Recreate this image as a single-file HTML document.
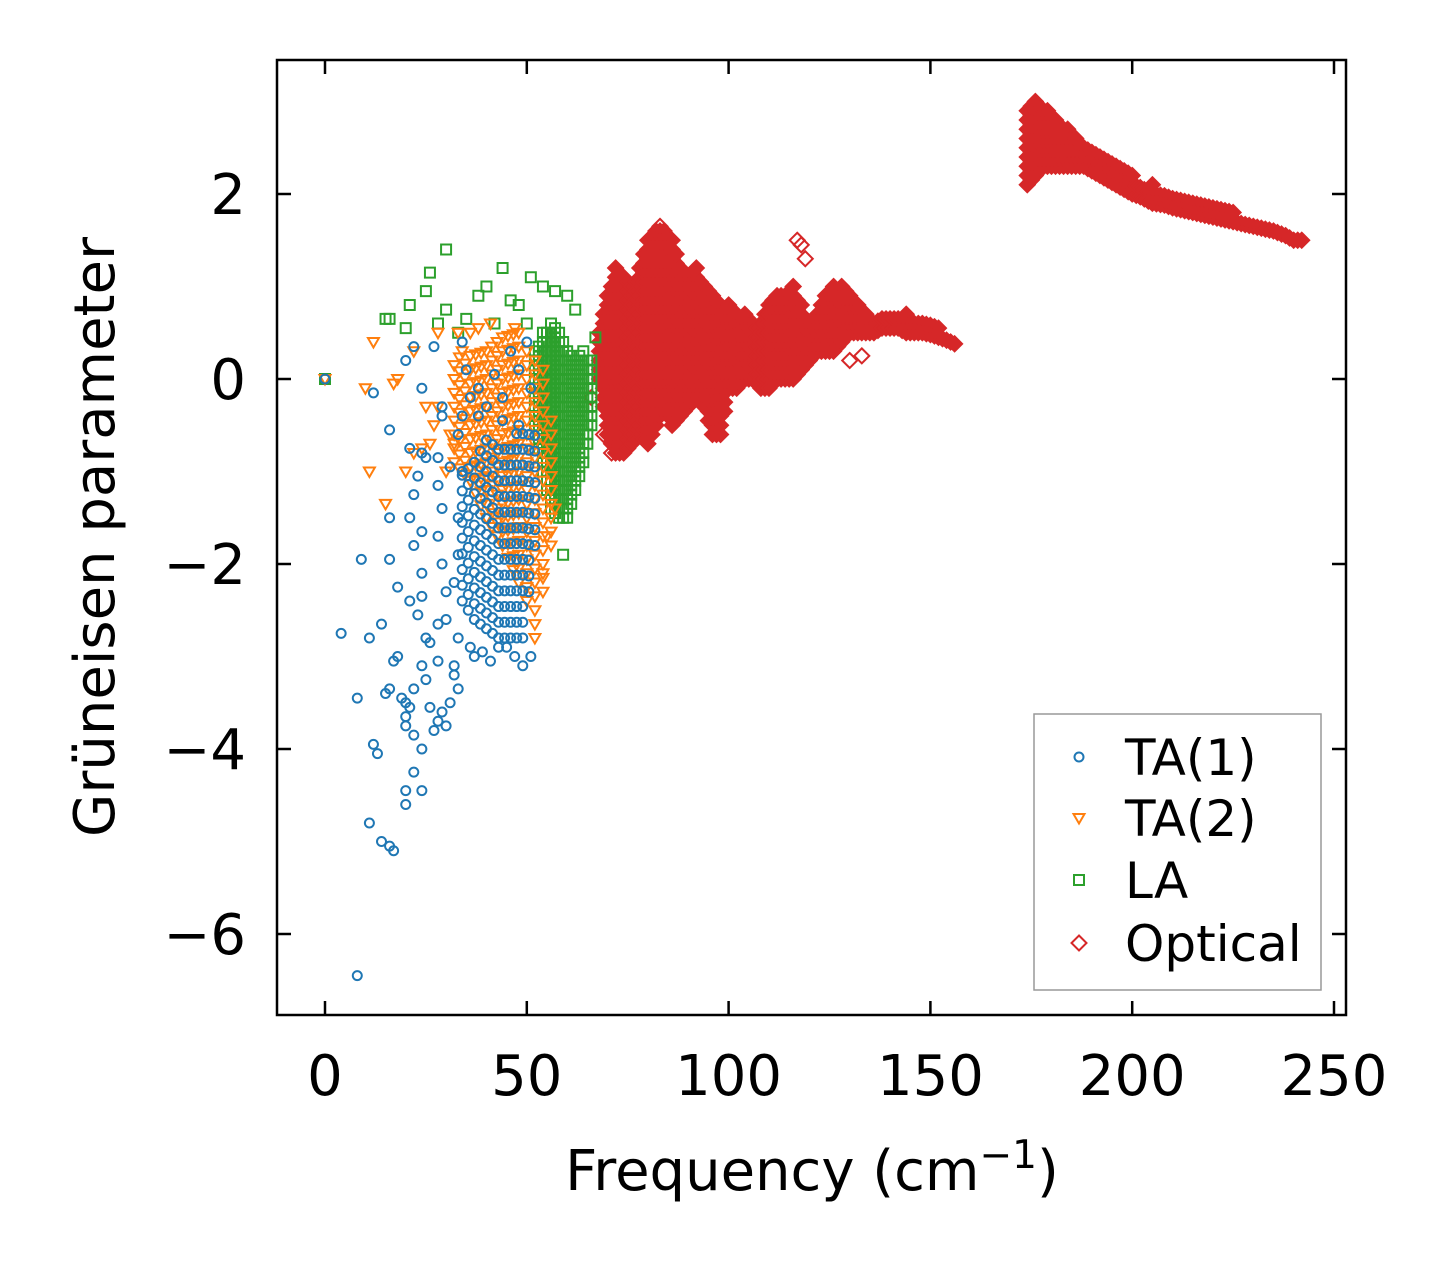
<!DOCTYPE html>
<html><head><meta charset="utf-8"><style>
html,body{margin:0;padding:0;background:#fff;}
svg text{font-family:"DejaVu Sans","Liberation Sans",sans-serif;}
</style></head><body>
<svg id="chart" width="1448" height="1264" viewBox="0 0 1448 1264" xmlns="http://www.w3.org/2000/svg">
<rect width="1448" height="1264" fill="#fff"/>
<g id="marks"></g>
<g id="axes"></g>
</svg>
<script>
// ---- data ----
const xTicks = [0, 50, 100, 150, 200, 250];
const yTicks = [2, 0, -2, -4, -6];
const yTickLabels = ["2", "0", "\u22122", "\u22124", "\u22126"];

// TA(1) scattered points
const ta1X = [0,8,4,8,9,11,11,12,13,14,16,17,14,15,16,16,16,16,12,17,18,18,19,20,20,20,20,20,21,22,22,24,24,22,21,22,21,22,23,21,20,22,24,24,25,24,24,24,23,24,25,25,26,26,27,28,28,29,30,28,29,28,29,28,28,29,29,27,31,30,30,31,32,32,33,33,32,33,33,34,33,34,34,35,36,38,40,42,44,46,48,50,51,37,39,41,43,45,47,49,51,36,44,48,38];
const ta1Y = [0,-6.45,-2.75,-3.45,-1.95,-2.8,-4.8,-3.95,-4.05,-5.0,-5.05,-5.1,-2.65,-3.4,-3.35,-1.95,-1.5,-0.55,-0.15,-3.05,-2.25,-3.0,-3.45,-3.5,-4.45,-4.6,-3.65,-3.75,-3.55,-3.85,-4.25,-4.45,-4.0,-3.35,-2.4,-1.8,-1.5,-1.25,-1.05,-0.75,0.2,0.35,-0.1,-0.8,-0.85,-1.65,-2.1,-2.35,-2.55,-3.1,-3.25,-2.8,-2.85,-3.55,-3.8,-3.7,-3.05,-3.6,-3.75,-2.65,-2.0,-1.7,-1.4,-1.15,-0.85,-0.3,-0.4,0.35,-0.95,-2.3,-2.6,-3.5,-3.1,-3.2,-3.35,-2.8,-2.2,-1.9,-1.5,-1.0,-0.6,-0.4,0.4,0.1,-0.2,-0.1,-0.3,0.05,-0.2,0.3,0.1,0.4,-0.1,-3.0,-2.95,-3.05,-2.9,-2.9,-3.0,-3.1,-3.0,-2.9,-0.45,-0.5,-0.4,-0.7];
// TA(1) dense band (column x, low y, high y)
const ta1BandX = [34,37,40,43,46,49,52];
const ta1BandLo = [-2.4,-2.6,-2.7,-2.8,-2.8,-2.8,-1.8];
const ta1BandHi = [-1.0,-0.8,-0.6,-0.6,-0.6,-0.5,-0.5];

// TA(2)
const ta2X = [0,10,11,15,17,18,20,22,25,26,28,28,30,32,34,12,22,24,27,31,33,36,38,41,47,55,54,57];
const ta2Y = [0,-0.1,-1.0,-1.35,-0.05,0.0,-1.0,-0.8,-0.3,-0.7,-0.3,0.5,-1.0,-0.7,0.3,0.4,0.3,-0.75,-0.5,-0.6,0.5,0.5,0.55,0.6,0.55,-1.7,-2.1,-1.4];
const ta2BandX = [32,36,40,44,48,50,52,54,56];
const ta2BandLo = [-0.9,-1.1,-1.5,-1.8,-2.2,-2.4,-2.8,-2.3,-1.8];
const ta2BandHi = [0.2,0.3,0.4,0.5,0.5,0.4,0.3,0.1,-0.4];

// LA
const laX = [0,15,16,20,21,25,26,30,28,30,35,38,40,44,46,48,51,54,57,60,62,59,64,67,33,42,50];
const laY = [0,0.65,0.65,0.55,0.8,0.95,1.15,1.4,0.6,0.75,0.65,0.9,1.0,1.2,0.85,0.8,1.1,1.0,0.95,0.9,0.75,-1.9,-0.3,0.45,0.5,0.6,0.6];
const laBandX = [52,54,56,58,60,62,64,66];
const laBandLo = [-0.5,-1.0,-1.4,-1.5,-1.5,-1.2,-0.9,-0.5];
const laBandHi = [0.3,0.5,0.6,0.5,0.3,0.2,0.3,0.2];

// Optical
const optX = [83,117,118,119,130,133,66,69,71];
const optY = [1.65,1.5,1.45,1.3,0.2,0.25,-0.2,-0.6,-0.8];
const optBandX = [68,70,72,74,76,78,80,82,84,86,88,90,92,94,96,98,100,102,104,106,108,110,112,114,116,118,120,122,124,126,128,130,132,134,136,138,140,142,144,146,148,150,152,154,156,
 174,176,178,180,182,184,186,188,190,192,194,196,198,200,202,205,208,210,213,215,218,220,223,225,228,230,233,235,238,240,242];
const optBandLo = [0.0,-0.6,-0.8,-0.8,-0.7,-0.6,-0.7,-0.5,-0.3,-0.5,-0.4,-0.3,-0.2,-0.3,-0.6,-0.6,-0.1,-0.1,0.0,0.0,-0.1,-0.1,0.0,0.0,0.0,0.1,0.2,0.3,0.3,0.3,0.4,0.5,0.5,0.5,0.5,0.55,0.55,0.55,0.5,0.5,0.5,0.48,0.45,0.42,0.38,
 2.1,2.2,2.3,2.3,2.3,2.3,2.3,2.3,2.25,2.2,2.15,2.1,2.05,2.0,1.97,1.9,1.88,1.85,1.82,1.8,1.77,1.75,1.72,1.7,1.67,1.65,1.62,1.6,1.55,1.5,1.5];
const optBandHi = [0.5,0.9,1.2,1.1,1.0,1.2,1.5,1.6,1.6,1.5,1.2,1.1,1.2,1.0,0.9,0.8,0.8,0.7,0.7,0.6,0.6,0.8,0.9,0.9,1.0,0.8,0.6,0.7,0.9,1.0,1.0,0.9,0.8,0.7,0.65,0.68,0.7,0.7,0.7,0.66,0.62,0.58,0.55,0.5,0.45,
 2.95,3.0,2.95,2.85,2.78,2.7,2.62,2.55,2.5,2.45,2.38,2.3,2.25,2.2,2.15,2.1,2.05,2.0,1.97,1.95,1.9,1.85,1.82,1.8,1.76,1.72,1.68,1.65,1.6,1.58,1.52];

// ---- scales ----
const X0 = 325, XS = (1334 - 325) / 250;
const Y0 = 379, YS = (934 - 194) / 8;
const sx = v => X0 + v * XS;
const sy = v => Y0 - v * YS;
const NS = "http://www.w3.org/2000/svg";
const marks = document.getElementById('marks');
const axes = document.getElementById('axes');

function marker(g, shape, cx, cy, color, fill) {
  let el;
  if (shape === 'circle') {
    el = document.createElementNS(NS, 'circle');
    el.setAttribute('cx', cx); el.setAttribute('cy', cy); el.setAttribute('r', 4.5);
  } else if (shape === 'tri') {
    el = document.createElementNS(NS, 'polygon');
    el.setAttribute('points', `${cx-5.5},${cy-4} ${cx+5.5},${cy-4} ${cx},${cy+5.5}`);
  } else if (shape === 'square') {
    el = document.createElementNS(NS, 'rect');
    el.setAttribute('x', cx-5); el.setAttribute('y', cy-5); el.setAttribute('width', 10); el.setAttribute('height', 10);
  } else {
    el = document.createElementNS(NS, 'polygon');
    el.setAttribute('points', `${cx},${cy-7.5} ${cx+7.5},${cy} ${cx},${cy+7.5} ${cx-7.5},${cy}`);
  }
  el.setAttribute('fill', fill || 'none');
  el.setAttribute('stroke', color);
  el.setAttribute('stroke-width', 2);
  g.appendChild(el);
  return el;
}

function series(name, shape, color, xs, ys, bx, blo, bhi, ystep, fill, xsub) {
  const g = document.createElementNS(NS, 'g');
  
  
  marks.appendChild(g);
  for (let i = 0; i < bx.length; i++) {
    const xa = bx[i], xb = i + 1 < bx.length && bx[i+1] - bx[i] <= 4 ? bx[i+1] : bx[i];
    const sub = Math.max(1, Math.round((xb - xa) / xsub));
    for (let k = 0; k < sub; k++) {
      const t = k / sub;
      const xv = xa + (xb - xa) * t;
      const lo = blo[i] + ((i + 1 < bx.length ? blo[i+1] : blo[i]) - blo[i]) * (xb === xa ? 0 : t);
      const hi = bhi[i] + ((i + 1 < bx.length ? bhi[i+1] : bhi[i]) - bhi[i]) * (xb === xa ? 0 : t);
      for (let y = lo; y <= hi + 1e-6; y += ystep) {
        const m = marker(g, shape, sx(xv), sy(y), color, fill);
        
        
      }
    }
  }
  for (let i = 0; i < xs.length; i++) {
    const m = marker(g, shape, sx(xs[i]), sy(ys[i]), color, null);
    
    
  }
}

series('optical-series', 'diamond', '#d62728', optX, optY, optBandX, optBandLo, optBandHi, 0.1, '#d62728', 1);
series('la-series', 'square', '#2ca02c', laX, laY, laBandX, laBandLo, laBandHi, 0.1, null, 1);
series('ta2-series', 'tri', '#ff7f0e', ta2X, ta2Y, ta2BandX, ta2BandLo, ta2BandHi, 0.15, null, 1.5);
series('ta1-series', 'circle', '#1f77b4', ta1X, ta1Y, ta1BandX, ta1BandLo, ta1BandHi, 0.17, null, 1.5);

// ---- axes ----
function add(parent, tag, attrs, text) {
  const el = document.createElementNS(NS, tag);
  for (const k in attrs) el.setAttribute(k, attrs[k]);
  if (text !== undefined) el.textContent = text;
  parent.appendChild(el);
  return el;
}
const L = 277, R = 1346, T = 60, B = 1015;
const frame = add(axes, 'rect', {x:L, y:T, width:R-L, height:B-T, fill:'none', stroke:'#000', 'stroke-width':2.5});


xTicks.forEach(v => {
  const x = sx(v);
  add(axes, 'line', {x1:x, y1:B, x2:x, y2:B-14, stroke:'#000', 'stroke-width':2.5});
  add(axes, 'line', {x1:x, y1:T, x2:x, y2:T+14, stroke:'#000', 'stroke-width':2.5});
  const t = add(axes, 'text', {x:x, y:1095, 'font-size':56, 'text-anchor':'middle', fill:'#000'}, String(v));
  
  
});
yTicks.forEach((v, i) => {
  const y = sy(v);
  add(axes, 'line', {x1:L, y1:y, x2:L+14, y2:y, stroke:'#000', 'stroke-width':2.5});
  add(axes, 'line', {x1:R, y1:y, x2:R-14, y2:y, stroke:'#000', 'stroke-width':2.5});
  const t = add(axes, 'text', {x:246, y:y+20, 'font-size':56, 'text-anchor':'end', fill:'#000'}, yTickLabels[i]);
  
  
});
const xl = add(axes, 'text', {x:812, y:1190, 'font-size':56, 'text-anchor':'middle', fill:'#000'});


xl.innerHTML = 'Frequency (cm<tspan dy="-22" font-size="39">\u22121</tspan><tspan dy="22">)</tspan>';
const yl = add(axes, 'text', {x:0, y:0, 'font-size':56, 'text-anchor':'middle', fill:'#000', transform:'translate(114,537) rotate(-90)'}, 'Grüneisen parameter');



// legend
const lg = add(axes, 'g', {});


add(lg, 'rect', {x:1034, y:714, width:287, height:276, fill:'#fff', stroke:'#999', 'stroke-width':1.5});
const legNames = ['TA(1)', 'TA(2)', 'LA', 'Optical'];
const legShapes = ['circle', 'tri', 'square', 'diamond'];
const legColors = ['#1f77b4', '#ff7f0e', '#2ca02c', '#d62728'];
const legY = [757, 818, 880, 943];
legNames.forEach((n, i) => {
  const e = add(lg, 'g', {});
  
  
  marker(e, legShapes[i], 1079, legY[i], legColors[i], null);
  add(e, 'text', {x:1125, y:legY[i]+18, 'font-size':50, fill:'#000'}, n);
});
</script>
</body></html>
